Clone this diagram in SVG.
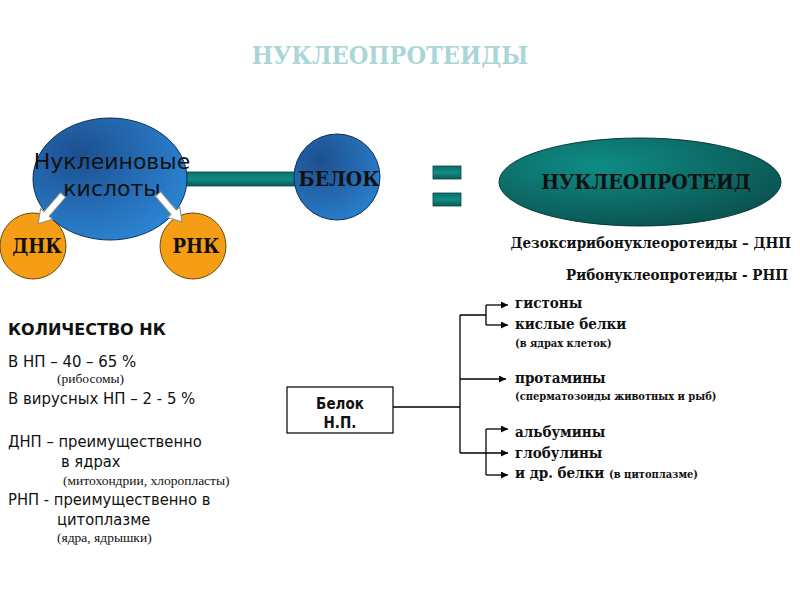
<svg xmlns="http://www.w3.org/2000/svg" width="800" height="600" viewBox="0 0 800 600">
<defs>
<radialGradient id="gBlue" cx="0.3" cy="0.3" r="0.8">
<stop offset="0" stop-color="#1d4f8f"/>
<stop offset="1" stop-color="#2c86d6"/>
</radialGradient>
<radialGradient id="gBlue2" cx="0.3" cy="0.3" r="0.8">
<stop offset="0" stop-color="#1d4f8f"/>
<stop offset="1" stop-color="#2a7fcc"/>
</radialGradient>
<linearGradient id="gTeal" x1="0" y1="0" x2="0" y2="1">
<stop offset="0" stop-color="#0b6e6a"/>
<stop offset="0.5" stop-color="#0f8c85"/>
<stop offset="1" stop-color="#0a5a57"/>
</linearGradient>
<radialGradient id="gTealE" cx="0.35" cy="0.3" r="0.8">
<stop offset="0" stop-color="#0f8c86"/>
<stop offset="1" stop-color="#0a4f4d"/>
</radialGradient>
<marker id="ah" viewBox="0 0 10 10" refX="10" refY="5" markerWidth="7" markerHeight="7" markerUnits="userSpaceOnUse" orient="auto">
<path d="M0,0 L10,5 L0,10 z" fill="#000"/>
</marker>
</defs>
<style>
.sans{font-family:"DejaVu Sans","Liberation Sans",sans-serif}
.csans{font-family:"DejaVu Sans Condensed","DejaVu Sans","Liberation Sans",sans-serif;font-stretch:condensed}
.serif{font-family:"DejaVu Serif Condensed","DejaVu Serif","Liberation Serif",serif;font-stretch:condensed}
.tserif{font-family:"Liberation Serif","DejaVu Serif",serif}
.b{font-weight:bold}
.ln{stroke:#000;stroke-width:1.3;fill:none}
.orange{fill:#f59d14;stroke:#6b4a10;stroke-width:1}
.warrow{fill:#fff;stroke:#888;stroke-width:1}
</style>
<rect width="800" height="600" fill="#fff"/>
<text x="390" y="64" text-anchor="middle" class="serif b" font-size="25" fill="#aad6d8">НУКЛЕОПРОТЕИДЫ</text>

<g id="bar">
<rect x="184" y="172" width="114" height="14" fill="url(#gTeal)" stroke="#0a4442" stroke-width="0.8"/>
</g>

<g id="dnk">
<circle cx="33" cy="246" r="33" class="orange"/>
<text x="37" y="253" text-anchor="middle" class="serif b" font-size="20" fill="#111">ДНК</text>
</g>
<g id="rnk">
<circle cx="193" cy="246" r="33" class="orange"/>
<text x="196" y="253" text-anchor="middle" class="serif b" font-size="20" fill="#111">РНК</text>
</g>

<g id="nucleic">
<ellipse cx="110" cy="179" rx="77" ry="61" fill="url(#gBlue)" stroke="#0d2f55" stroke-width="1"/>
<text x="112" y="169" text-anchor="middle" class="sans" font-size="22" fill="#111">Нуклеиновые</text>
<text x="112" y="196" text-anchor="middle" class="sans" font-size="22" fill="#111">кислоты</text>
</g>

<g id="connectors-arrows">
<polygon class="warrow" points="0,-3.5 25,-3.5 25,-8 38,0 25,8 25,3.5 0,3.5" transform="translate(63,195) rotate(130.8)"/>
<polygon class="warrow" points="0,-3.5 24,-3.5 24,-8 37,0 24,8 24,3.5 0,3.5" transform="translate(158,194) rotate(49.4)"/>
</g>

<g id="belok">
<circle cx="337" cy="177" r="43" fill="url(#gBlue2)" stroke="#0d2f55" stroke-width="1"/>
<text x="339" y="186" text-anchor="middle" class="serif b" font-size="21" fill="#111">БЕЛОК</text>
</g>

<g id="equals">
<rect x="433" y="166" width="28" height="13" fill="url(#gTeal)" stroke="#0a4442" stroke-width="0.8"/>
<rect x="433" y="193" width="28" height="13" fill="url(#gTeal)" stroke="#0a4442" stroke-width="0.8"/>
</g>

<g id="nucleoprotein">
<ellipse cx="640" cy="182" rx="141" ry="44" fill="url(#gTealE)" stroke="#083a38" stroke-width="1"/>
<text x="646" y="189" text-anchor="middle" class="serif b" font-size="21" fill="#111">НУКЛЕОПРОТЕИД</text>
</g>

<g id="types">
<text x="791" y="248" text-anchor="end" class="serif b" font-size="15" fill="#111">Дезоксирибонуклеоротеиды – ДНП</text>
<text x="788" y="280" text-anchor="end" class="serif b" font-size="15" fill="#111">Рибонуклеопротеиды - РНП</text>
</g>

<g id="amount">
<text x="8" y="335" class="sans b" font-size="16" fill="#111">КОЛИЧЕСТВО НК</text>
<text x="8" y="367" class="csans" font-size="16.6" fill="#111">В НП – 40 – 65 %</text>
<text x="57" y="383" class="tserif" font-size="13.5" fill="#111">(рибосомы)</text>
<text x="8" y="404" class="csans" font-size="16.6" fill="#111">В вирусных НП – 2 - 5 %</text>
<text x="8" y="447" class="csans" font-size="16.4" fill="#111">ДНП – преимущественно</text>
<text x="61" y="467" class="csans" font-size="16.4" fill="#111">в ядрах</text>
<text x="63" y="485" class="tserif" font-size="13.5" fill="#111">(митохондрии, хлоропласты)</text>
<text x="8" y="505" class="csans" font-size="16.4" fill="#111">РНП - преимущественно в</text>
<text x="57" y="525" class="csans" font-size="16.4" fill="#111">цитоплазме</text>
<text x="57" y="542" class="tserif" font-size="13.5" fill="#111">(ядра, ядрышки)</text>
</g>

<g id="protein-np">
<rect x="287" y="387" width="106" height="46" fill="#fff" stroke="#000" stroke-width="1.2"/>
<text x="340" y="409" text-anchor="middle" class="csans b" font-size="15" fill="#111">Белок</text>
<text x="340" y="428" text-anchor="middle" class="csans b" font-size="15" fill="#111">Н.П.</text>
</g>

<g id="connectors">
<path class="ln" d="M393,407 H460 M460,315 V453 M460,315 H486 M486,305 V325"/>
<path class="ln" d="M486,305 H508" marker-end="url(#ah)"/>
<path class="ln" d="M486,325 H508" marker-end="url(#ah)"/>
<path class="ln" d="M460,379 H506" marker-end="url(#ah)"/>
<path class="ln" d="M486,429 V475"/>
<path class="ln" d="M486,429 H508" marker-end="url(#ah)"/>
<path class="ln" d="M460,453 H508" marker-end="url(#ah)"/>
<path class="ln" d="M486,475 H508" marker-end="url(#ah)"/>
</g>

<g id="protein-types">
<text x="515" y="308" class="serif b" font-size="15" fill="#111">гистоны</text>
<text x="515" y="329" class="serif b" font-size="15" fill="#111">кислые белки</text>
<text x="515" y="347" class="serif b" font-size="11" fill="#111">(в ядрах клеток)</text>
<text x="515" y="383" class="serif b" font-size="15" fill="#111">протамины</text>
<text x="515" y="400" class="serif b" font-size="11" fill="#111">(сперматозоиды животных и рыб)</text>
<text x="515" y="437" class="serif b" font-size="15" fill="#111">альбумины</text>
<text x="515" y="458" class="serif b" font-size="15" fill="#111">глобулины</text>
<text x="515" y="478" class="serif b" font-size="15" fill="#111">и др. белки <tspan font-size="11">(в цитоплазме)</tspan></text>
</g>
</svg>
